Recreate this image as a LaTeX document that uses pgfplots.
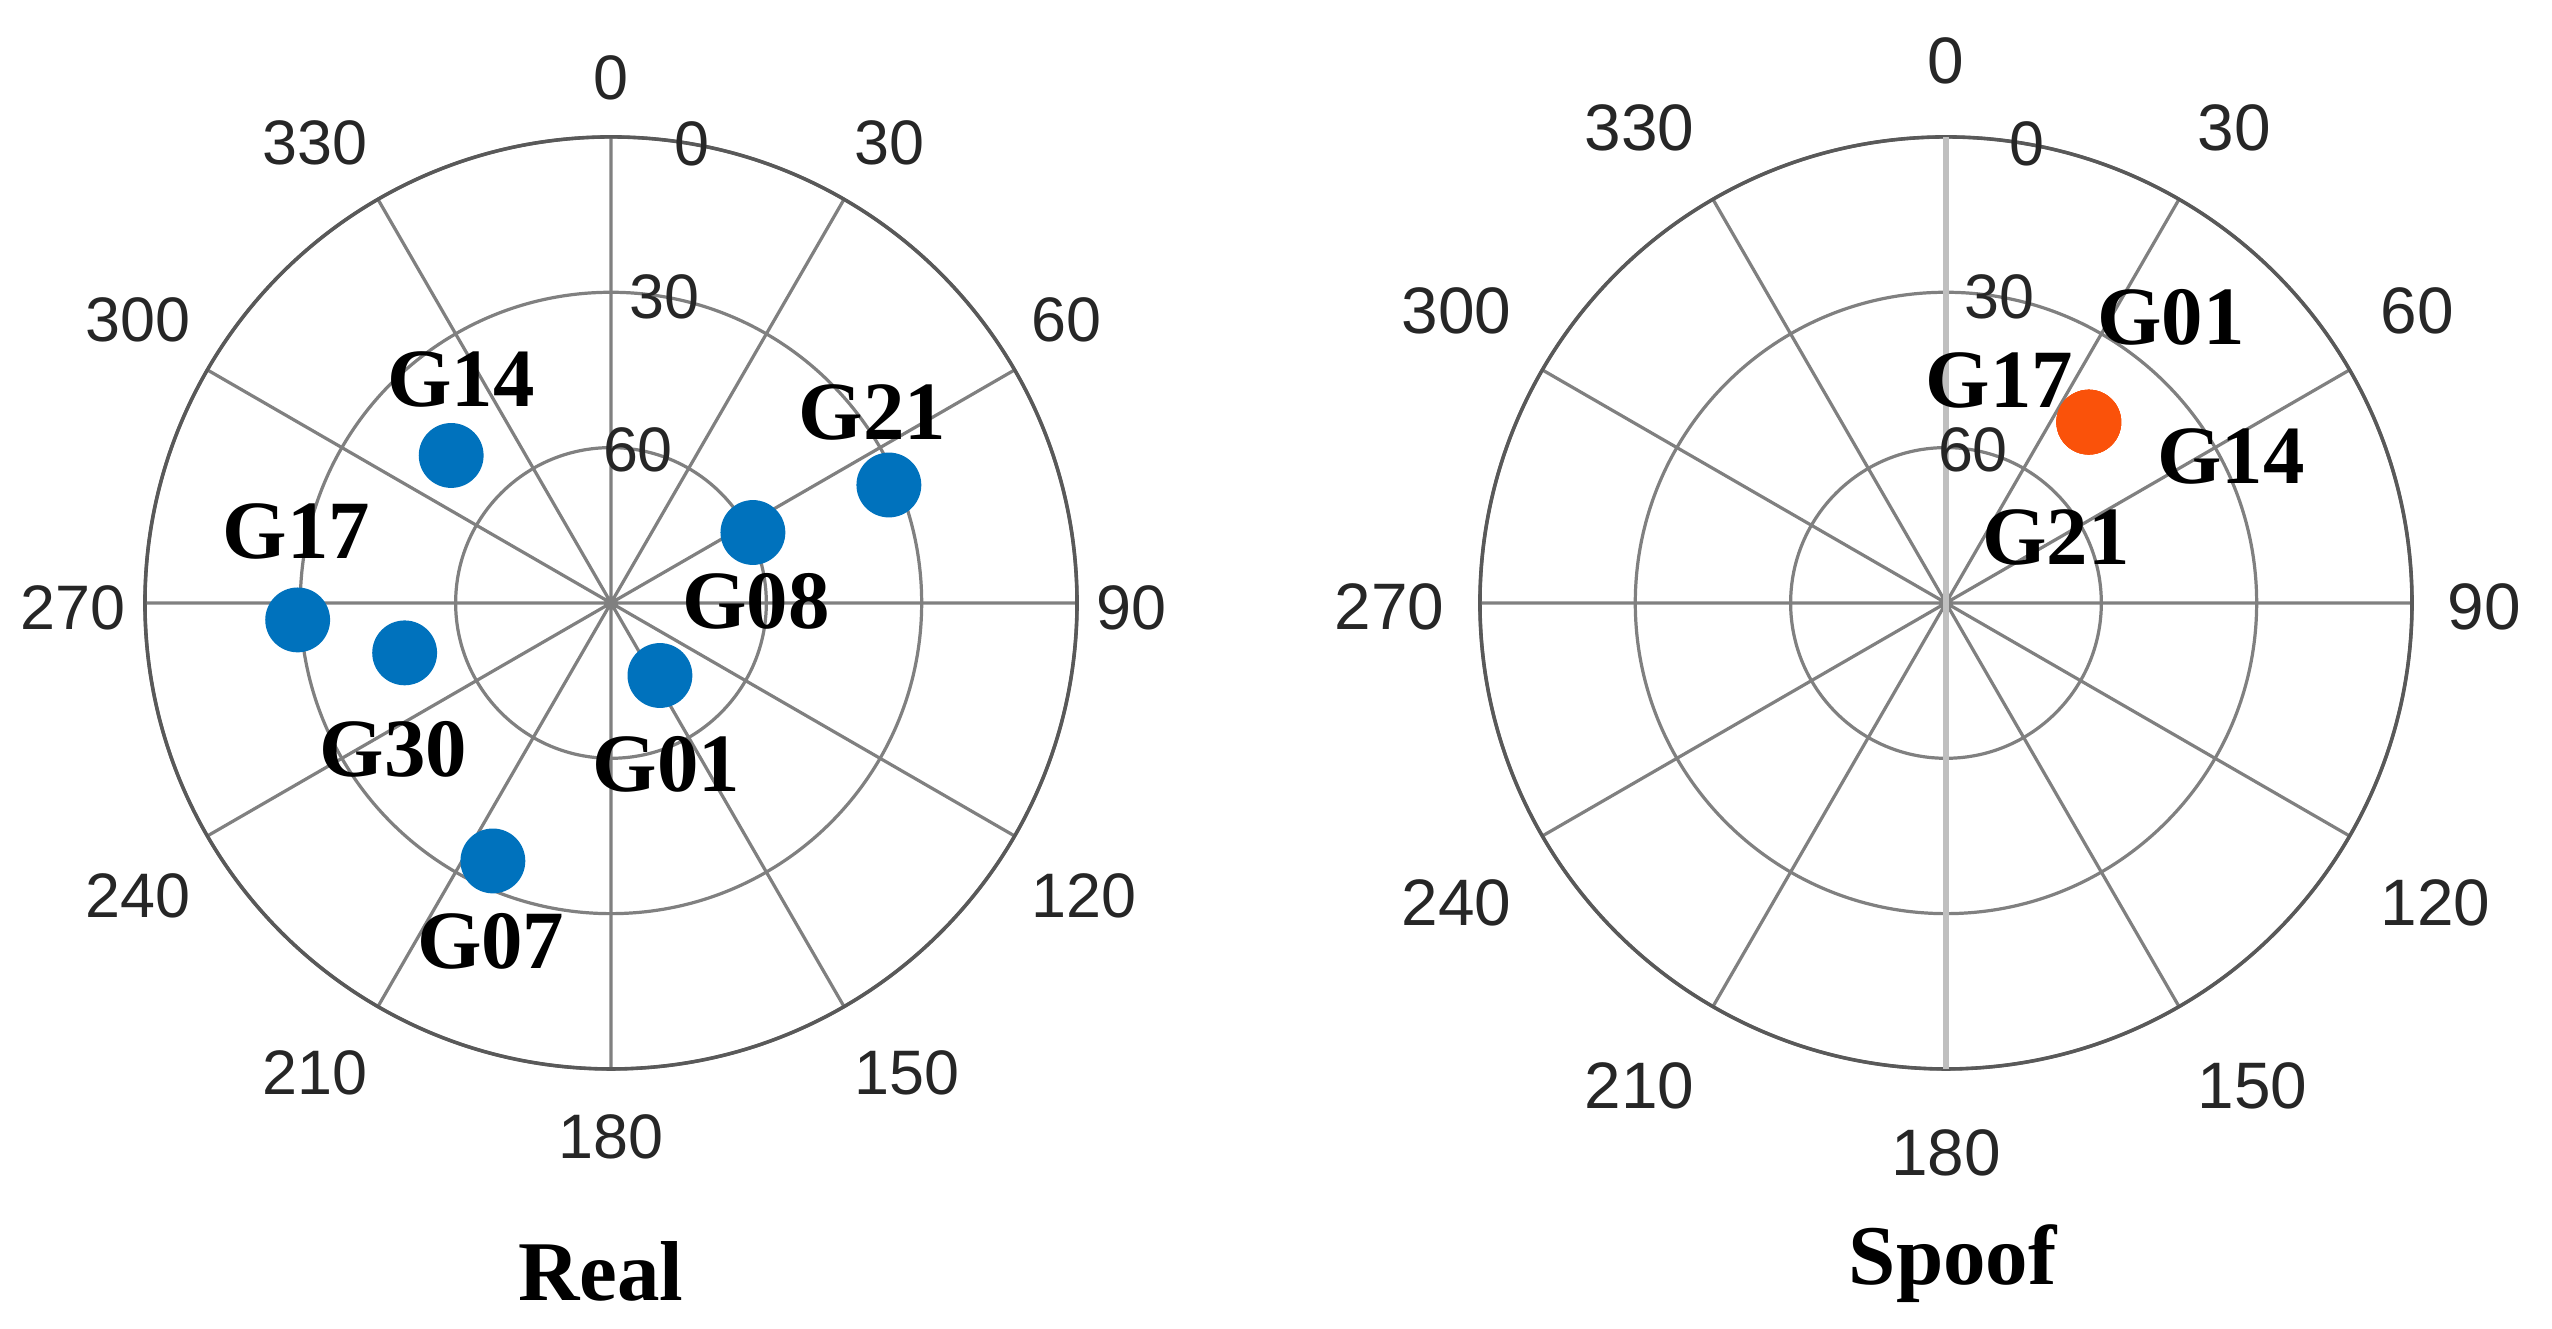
\documentclass[border=0pt]{standalone}
\usepackage{pgfplots}
\pgfplotsset{compat=1.18}
\usepgfplotslibrary{polar}
\usepackage{pgfplotstable}
\usepackage{fontspec}
\setmainfont{Liberation Serif}
\newfontfamily\arialfont{Liberation Sans}
\definecolor{satblue}{RGB}{0,114,189}
\definecolor{satorange}{RGB}{250,82,10}

% azimuth (deg, clockwise from north), elevation (deg), label offset (pt)
\pgfplotstableread{
az    el    dx    dy    name
312.7 48.0  1.4   10.6  G14
266.9 29.4  -0.2  12.4  G17
256.4 49.0  -1.6  -13.5 G30
204.6 35.2  -0.3  -11.2 G07
146.0 73.1  0.9   -12.4 G01
63.6  59.4  0.4   -9.6  G08
67.0  31.7  -2.3  10.2  G21
}\realsats

\pgfplotstableread{
az    el    dx    dy    name
38.3  45.5  11.5  14.6  G01
38.3  45.5  -12.5 5.8   G17
38.3  45.5  19.9  -4.8  G14
38.3  45.5  -4.6  -16.2 G21
}\spoofsats

\tikzset{
  radlab/.style={font=\arialfont\fontsize{8.8}{10}\selectfont,text=black!85,anchor=center},
  azlab/.style={font=\arialfont\fontsize{#1}{10}\selectfont,text=black!85,
    inner sep=0pt,text height=9.9pt,text depth=2.5pt},
}

% azimuth labels just outside the outer ring (pgf angle = 90 - azimuth)
% #1 = radius of the label anchors, #2 = font size
\newcommand\azimuthlabels[2]{%
  \node[azlab=#2,anchor=south]      at (axis cs:90,#1)   {0};
  \node[azlab=#2,anchor=south west] at (axis cs:60,#1)   {30};
  \node[azlab=#2,anchor=south west] at (axis cs:30,#1)   {60};
  \node[azlab=#2,anchor=west]       at (axis cs:0,#1)    {90};
  \node[azlab=#2,anchor=north west] at (axis cs:-30,#1)  {120};
  \node[azlab=#2,anchor=north west] at (axis cs:-60,#1)  {150};
  \node[azlab=#2,anchor=north]      at (axis cs:-90,#1)  {180};
  \node[azlab=#2,anchor=north east] at (axis cs:-120,#1) {210};
  \node[azlab=#2,anchor=north east] at (axis cs:-150,#1) {240};
  \node[azlab=#2,anchor=east]       at (axis cs:180,#1)  {270};
  \node[azlab=#2,anchor=south east] at (axis cs:150,#1)  {300};
  \node[azlab=#2,anchor=south east] at (axis cs:120,#1)  {330};
  \node[radlab] at (axis cs:80,90) {0};
  \node[radlab] at (axis cs:80,60) {30};
  \node[radlab] at (axis cs:80,30) {60};
}

\pgfplotsset{
  skyplot/.style={
    scale only axis,width=130.48pt,height=130.48pt,
    xmin=0,xmax=360,ymin=0,ymax=90,
    xtick={0,30,...,330},xticklabels={},
    ytick={30,60,90},yticklabels={},
    grid=major,major grid style={gray,line width=0.45pt},
    axis line style={black!65,line width=0.5pt},
    separate axis lines,y axis line style={draw=none},
    major tick length=0pt,
    clip=false,anchor=center,
  },
  sats/.style={only marks,color=#1,mark=*,mark size=4.34pt,mark options={draw=#1,fill=#1},
    nodes near coords,point meta=explicit symbolic,
    visualization depends on={\thisrow{dx}\as\dx},
    visualization depends on={\thisrow{dy}\as\dy},
    every node near coord/.append style={font=\bfseries\fontsize{11.6}{13}\selectfont,
      anchor=center,xshift=\dx pt,yshift=\dy pt,text=black}},
}

\begin{document}
\begin{tikzpicture}
\useasboundingbox (0,0) rectangle (357.28pt,186.06pt);

\begin{polaraxis}[skyplot,at={(85.54pt,101.64pt)}]
\addplot[sats=satblue] table[x expr={90-\thisrow{az}},y expr={90-\thisrow{el}},meta=name] {\realsats};
\azimuthlabels{93.45}{8.8}
\end{polaraxis}

\begin{polaraxis}[skyplot,at={(272.44pt,101.64pt)}]
\draw[black!25,line width=0.8pt] (axis cs:90,90) -- (axis cs:270,90);
\addplot[sats=satorange] table[x expr={90-\thisrow{az}},y expr={90-\thisrow{el}},meta=name] {\spoofsats};
\azimuthlabels{96.6}{9.2}
\end{polaraxis}

\node[font=\bfseries\fontsize{11.9}{13}\selectfont,anchor=base] at (84.14pt,3.92pt) {Real};
\node[font=\bfseries\fontsize{11.9}{13}\selectfont,anchor=base] at (273.4pt,6.2pt) {Spoof};
\end{tikzpicture}
\end{document}
